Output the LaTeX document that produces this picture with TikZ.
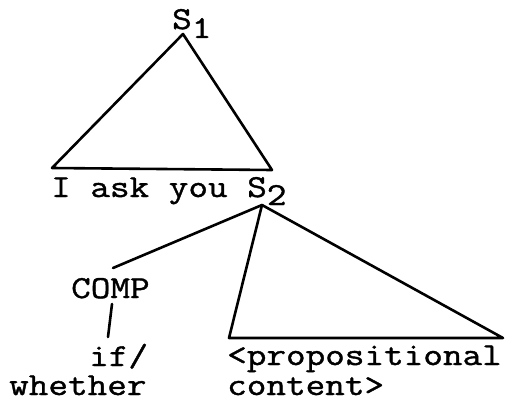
\documentclass[tikz,border=0pt]{standalone}
\usepackage{fontspec}
\newfontfamily\tw{Latin Modern Mono}[FakeStretch=1.19,FakeBold=1.2]
\begin{document}
\begin{tikzpicture}[x=1pt,y=-1pt,
  lbl/.style={font=\tw\fontsize{32}{38}\selectfont, inner sep=0pt, anchor=base west,
    text height=19pt, text depth=5pt},
  edge/.style={line width=2.6pt, line join=round, line cap=round}]
\useasboundingbox (0,0) rectangle (509,404);
% labels
\node[lbl] (s1) at (172,29) {S\raisebox{-9pt}{1}};
\node[lbl] (iask) at (51,197) {I ask you S\raisebox{-8pt}{2}};
\node[lbl] (comp) at (71,298) {COMP};
\node[lbl] (if) at (89,366) {if/};
\node[lbl] (whether) at (9,395) {whether};
\node[lbl] (prop) at (227,365) {<propositional};
\node[lbl] (content) at (227,395) {content>};
% coordinates
\coordinate (a1) at (183,34);
\coordinate (l1) at (52,168);
\coordinate (r1) at (272,170);
\coordinate (a2) at (262,205);
\coordinate (ct) at (113,268);
\coordinate (cb) at (112,304);
\coordinate (ib) at (108,337);
\coordinate (l2) at (229,338);
\coordinate (r2) at (503,338);
% edges
\draw[edge] (a1) -- (l1) -- (r1) -- cycle;
\draw[edge] (a2) -- (ct);
\draw[edge] (cb) -- (ib);
\draw[edge] (a2) -- (l2) -- (r2) -- cycle;
\end{tikzpicture}
\end{document}
